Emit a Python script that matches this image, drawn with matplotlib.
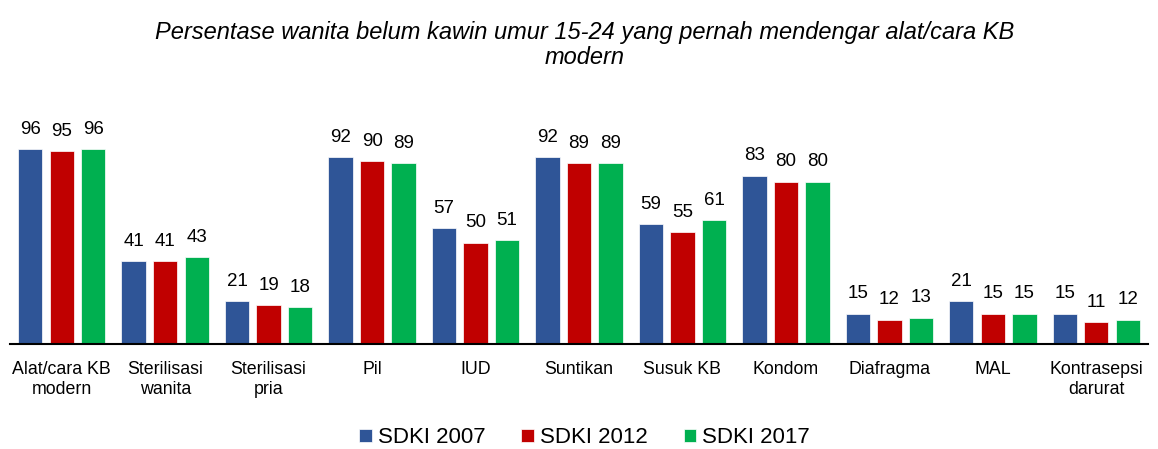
import numpy as np
import matplotlib.pyplot as plt

plt.rcParams['font.family'] = ['Liberation Sans', 'DejaVu Sans']

categories = ['Alat/cara KB\nmodern', 'Sterilisasi\nwanita', 'Sterilisasi\npria', 'Pil', 'IUD',
              'Suntikan', 'Susuk KB', 'Kondom', 'Diafragma', 'MAL', 'Kontrasepsi\ndarurat']
sdki2007 = [96, 41, 21, 92, 57, 92, 59, 83, 15, 21, 15]
sdki2012 = [95, 41, 19, 90, 50, 89, 55, 80, 12, 15, 11]
sdki2017 = [96, 43, 18, 89, 51, 89, 61, 80, 13, 15, 12]
series_names = ['SDKI 2007', 'SDKI 2012', 'SDKI 2017']
colors = ['#2F5597', '#C00000', '#00B050']

fig = plt.figure(figsize=(11.58, 4.49), dpi=100)
ax = fig.add_axes([10 / 1158, 105 / 449, 1138 / 1158, 203 / 449])

x = np.arange(len(categories))
step = 0.305
width = 0.235
for i, (vals, name, c) in enumerate(zip([sdki2007, sdki2012, sdki2017], series_names, colors)):
    pos = x + (i - 1) * step
    ax.bar(pos, vals, width, color=c, label=name, edgecolor='white', linewidth=0.5)
    for xp, v in zip(pos, vals):
        ax.text(xp, v + 5.5, str(v), ha='center', va='bottom', fontsize=13.5)

ax.set_xlim(-0.5, 10.5)
ax.set_ylim(0, 100)
ax.set_xticks(x)
ax.set_xticklabels(categories, fontsize=12.8, linespacing=1.25)
ax.tick_params(axis='x', length=0, pad=12)
ax.set_yticks([])
for s in ['top', 'right', 'left']:
    ax.spines[s].set_visible(False)
ax.spines['bottom'].set_linewidth(1.5)

fig.text(0.505, 0.9, 'Persentase wanita belum kawin umur 15-24 yang pernah mendengar alat/cara KB\nmodern',
         ha='center', va='center', fontsize=17, style='italic', linespacing=1.15)

fig.legend(loc='center', bbox_to_anchor=(0.505, 0.025), ncol=3, frameon=False, fontsize=16,
           handlelength=0.55, handleheight=0.55, handletextpad=0.3, columnspacing=1.6)

fig.savefig('out.png', dpi=100)
